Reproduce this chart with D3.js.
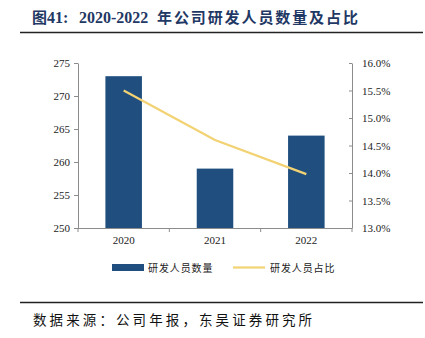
<!DOCTYPE html>
<html><head><meta charset="utf-8">
<script src="https://cdn.jsdelivr.net/npm/d3@7"></script>
<style>body{margin:0;background:#fff}svg{display:block}</style>
</head><body>
<svg id="c" width="425" height="338"></svg>
<script>
const years = ["2020","2021","2022"];
const staff = [273, 259, 264];
const ratio = [15.5, 14.6, 13.98];
const leftTicks = [250,255,260,265,270,275];
const rightTicks = [13.0,13.5,14.0,14.5,15.0,15.5,16.0];

const svg = d3.select("#c");
const serif = "'Liberation Serif','Times New Roman',serif";
const cjk = "'Noto Sans CJK SC',sans-serif";
const axisColor = "#8c8c8c";
const titleColor = "#1f3864";

const tg = svg.append("g").attr("font-weight","bold").attr("fill",titleColor).attr("font-size",15);
tg.append("text").attr("x",32).attr("y",23).attr("font-family",cjk).text("图");
tg.append("text").attr("x",47).attr("y",23).attr("font-family",serif).attr("font-size",16).text("41:");
tg.append("text").attr("x",79).attr("y",23).attr("font-family",serif).attr("font-size",16).text("2020-2022");
tg.append("text").attr("x",157).attr("y",23).attr("font-family",cjk).attr("letter-spacing",1.9).text("年公司研发人员数量及占比");

svg.append("line").attr("x1",20).attr("x2",423).attr("y1",32.5).attr("y2",32.5).attr("stroke","#222").attr("stroke-width",1.5);
svg.append("line").attr("x1",20).attr("x2",423).attr("y1",302.5).attr("y2",302.5).attr("stroke","#222").attr("stroke-width",1.5);
svg.append("text").attr("x",33).attr("y",325).attr("font-family",cjk).attr("font-size",13.5).attr("letter-spacing",3.1).attr("fill","#111").text("数据来源：公司年报，东吴证券研究所");

const x0=78, x1=352, yTop=63, yBot=228;
const x = d3.scaleBand().domain(years).range([x0,x1]).paddingInner(0.6).paddingOuter(0.3);
const xb = d3.scaleBand().domain(years).range([x0,x1]);
const yL = d3.scaleLinear().domain([250,275]).range([yBot,yTop]);
const yR = d3.scaleLinear().domain([13,16]).range([yBot,yTop]);

svg.append("g").selectAll("rect").data(years).join("rect")
  .attr("x",d=>x(d)).attr("width",x.bandwidth())
  .attr("y",(d,i)=>yL(staff[i])).attr("height",(d,i)=>yBot-yL(staff[i]))
  .attr("fill","#1f4e7f");

const line = d3.line().x((d,i)=>xb(years[i])+xb.bandwidth()/2).y(d=>yR(d));
svg.append("path").datum(ratio).attr("d",line).attr("fill","none").attr("stroke","#f2d272").attr("stroke-width",2.2);

function style(g){
  g.selectAll("path,line").attr("stroke",axisColor);
  g.selectAll("text").attr("font-family",serif).attr("font-size",11).attr("fill","#222");
}
const gl = svg.append("g").attr("transform",`translate(${x0},0)`)
  .call(d3.axisLeft(yL).tickValues(leftTicks).tickSize(4).tickSizeOuter(0).tickPadding(4));
style(gl);
const gr = svg.append("g").attr("transform",`translate(${x1},0)`)
  .call(d3.axisRight(yR).tickValues(rightTicks).tickFormat(d=>d.toFixed(1)+"%").tickSize(-3).tickSizeOuter(0).tickPadding(10));
style(gr);
const gb = svg.append("g").attr("transform",`translate(0,${yBot})`)
  .call(d3.axisBottom(xb).tickSize(0).tickPadding(8));
style(gb);
gb.select(".domain").attr("d",`M${x0},0.5H${x1}`);
const bounds=[x0, ...years.slice(1).map(d=>xb(d)), x1];
gb.selectAll(".bt").data(bounds).join("line").attr("class","bt")
  .attr("x1",d=>d).attr("x2",d=>d).attr("y1",0).attr("y2",4).attr("stroke",axisColor);

const lg = svg.append("g");
lg.append("rect").attr("x",112).attr("y",264).attr("width",32).attr("height",7).attr("fill","#1f4e7f");
lg.append("text").attr("x",148).attr("y",272).attr("font-family",cjk).attr("font-size",10).attr("letter-spacing",0.9).attr("fill","#222").text("研发人员数量");
lg.append("line").attr("x1",233).attr("x2",265).attr("y1",267.5).attr("y2",267.5).attr("stroke","#f2d272").attr("stroke-width",2.2);
lg.append("text").attr("x",270).attr("y",272).attr("font-family",cjk).attr("font-size",10).attr("letter-spacing",0.9).attr("fill","#222").text("研发人员占比");
</script>
</body></html>
